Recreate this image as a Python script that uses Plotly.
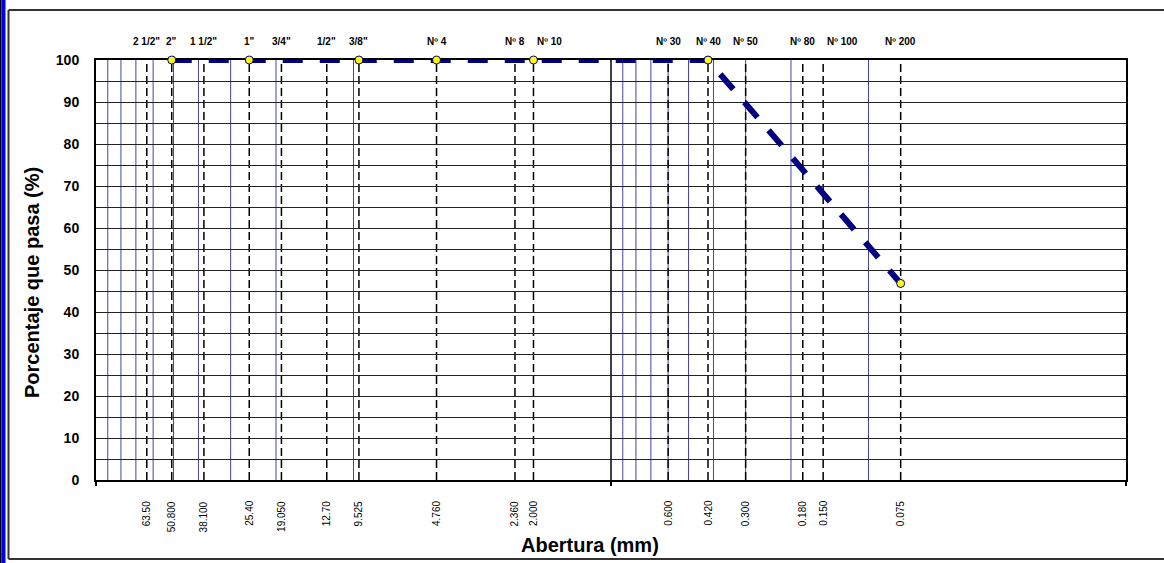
import math
import plotly.graph_objects as go

# ---------------- data ----------------
sieve_sizes = [63.5, 50.8, 38.1, 25.4, 19.05, 12.7, 9.525, 4.76, 2.36, 2.0,
               0.6, 0.42, 0.3, 0.18, 0.15, 0.075]
sieve_names = ['2 1/2"', '2"', '1 1/2"', '1"', '3/4"', '1/2"', '3/8"', 'Nº 4',
               'Nº 8', 'Nº 10', 'Nº 30', 'Nº 40', 'Nº 50', 'Nº 80', 'Nº 100', 'Nº 200']
size_labels = ['63.50', '50.800', '38.100', '25.40', '19.050', '12.70', '9.525',
               '4.760', '2.360', '2.000', '0.600', '0.420', '0.300', '0.180',
               '0.150', '0.075']

sample_sizes = [50.8, 25.4, 9.525, 4.76, 2.0, 0.42, 0.075]
percent_passing = [100, 100, 100, 100, 100, 100, 46.8]

minor_grid = [90, 80, 70, 60, 50, 40, 30, 20, 10,
              0.9, 0.8, 0.7, 0.6, 0.5, 0.4, 0.3, 0.2, 0.1]
major_grid = [1]

# ---------------- layout geometry ----------------
W, H = 1164, 563
L, R, T, B = 96, 1126, 60, 480


def px(x):
    return (x - L) / (R - L)


def py(y):
    return (B - y) / (B - T)


fig = go.Figure()

fig.add_trace(go.Scatter(
    x=sample_sizes, y=percent_passing, mode='lines+markers',
    line=dict(color='#000080', width=6, dash='20px,17px'),
    marker=dict(size=8, color='#FFFF00', line=dict(color='#000080', width=1)),
    cliponaxis=False, showlegend=False, hoverinfo='x+y'))

shapes = []
for v in minor_grid:
    shapes.append(dict(type='line', xref='x', yref='paper', x0=v, x1=v, y0=0, y1=1,
                       line=dict(color='#4444AA', width=1), layer='below'))
for v in major_grid:
    shapes.append(dict(type='line', xref='x', yref='paper', x0=v, x1=v, y0=0, y1=1,
                       line=dict(color='#000000', width=1.5), layer='below'))
for v in sieve_sizes:
    shapes.append(dict(type='line', xref='x', yref='paper', x0=v, x1=v, y0=0, y1=1,
                       line=dict(color='#000000', width=1.5, dash='8px,4px'), layer='below'))

# outer frame
shapes += [
    dict(type='line', xref='paper', yref='paper', x0=px(8.5), x1=px(8.5), y0=py(10), y1=py(559),
         line=dict(color='#333333', width=2)),
    dict(type='line', xref='paper', yref='paper', x0=px(8.5), x1=px(1166), y0=py(10), y1=py(10),
         line=dict(color='#333333', width=2)),
    dict(type='line', xref='paper', yref='paper', x0=px(8.5), x1=px(1166), y0=py(559), y1=py(559),
         line=dict(color='#333333', width=2)),
    dict(type='rect', xref='paper', yref='paper', x0=px(0), x1=px(1.5), y0=py(-2), y1=py(566),
         line=dict(width=0), fillcolor='#000000'),
    dict(type='rect', xref='paper', yref='paper', x0=px(1.5), x1=px(5.5), y0=py(-2), y1=py(566),
         line=dict(width=0), fillcolor='#0000EE'),
]

left_aligned = {'Nº 10', 'Nº 100'}
annotations = []
for v, name in zip(sieve_sizes, sieve_names):
    left = name in left_aligned
    annotations.append(dict(x=math.log10(v), xref='x', y=py(42), yref='paper', text=name,
                            showarrow=False, xanchor='left' if left else 'center',
                            xshift=2 if left else 0, yanchor='middle',
                            font=dict(family='Liberation Sans, Arial', size=10, color='#000000', weight='bold')))
for v, lab in zip(sieve_sizes, size_labels):
    annotations.append(dict(x=math.log10(v), xref='x', y=py(499), yref='paper', text=lab,
                            showarrow=False, xanchor='center', yanchor='top', textangle=-90,
                            font=dict(family='Liberation Sans, Arial', size=10, color='#000000')))
annotations.append(dict(x=px(590), y=py(545), xref='paper', yref='paper', text='Abertura (mm)',
                        showarrow=False, xanchor='center', yanchor='middle',
                        font=dict(family='Liberation Sans, Arial', size=20, color='#000000', weight='bold')))
annotations.append(dict(x=px(32), y=py(283), xref='paper', yref='paper', text='Porcentaje que pasa (%)',
                        showarrow=False, xanchor='center', yanchor='middle', textangle=-90,
                        font=dict(family='Liberation Sans, Arial', size=20, color='#000000', weight='bold')))

fig.update_layout(
    width=W, height=H, autosize=False,
    margin=dict(l=L, r=W - R, t=T, b=H - B, pad=0),
    paper_bgcolor='white', plot_bgcolor='white',
    shapes=shapes, annotations=annotations, showlegend=False,
    xaxis=dict(type='log', range=[2, -2], showgrid=False, zeroline=False,
               showline=True, linecolor='#000000', linewidth=2, mirror=True,
               tickvals=[100, 1, 0.01], ticks='outside', ticklen=4, tickwidth=1.5,
               tickcolor='#000000', showticklabels=False, layer='below traces'),
    yaxis=dict(range=[0, 100], dtick=10, showgrid=True, gridcolor='#222222', gridwidth=1,
               minor=dict(dtick=5, showgrid=True, gridcolor='#222222', gridwidth=1),
               zeroline=False, showline=True, linecolor='#000000', linewidth=2, mirror=True,
               ticks='', ticklabelstandoff=12,
               tickfont=dict(family='Liberation Sans, Arial', size=14, color='#000000', weight='bold'),
               layer='below traces'),
)

fig.write_html('out.html', config={'displayModeBar': False},
               post_script="document.body.style.margin='0';document.body.style.overflow='hidden';")
